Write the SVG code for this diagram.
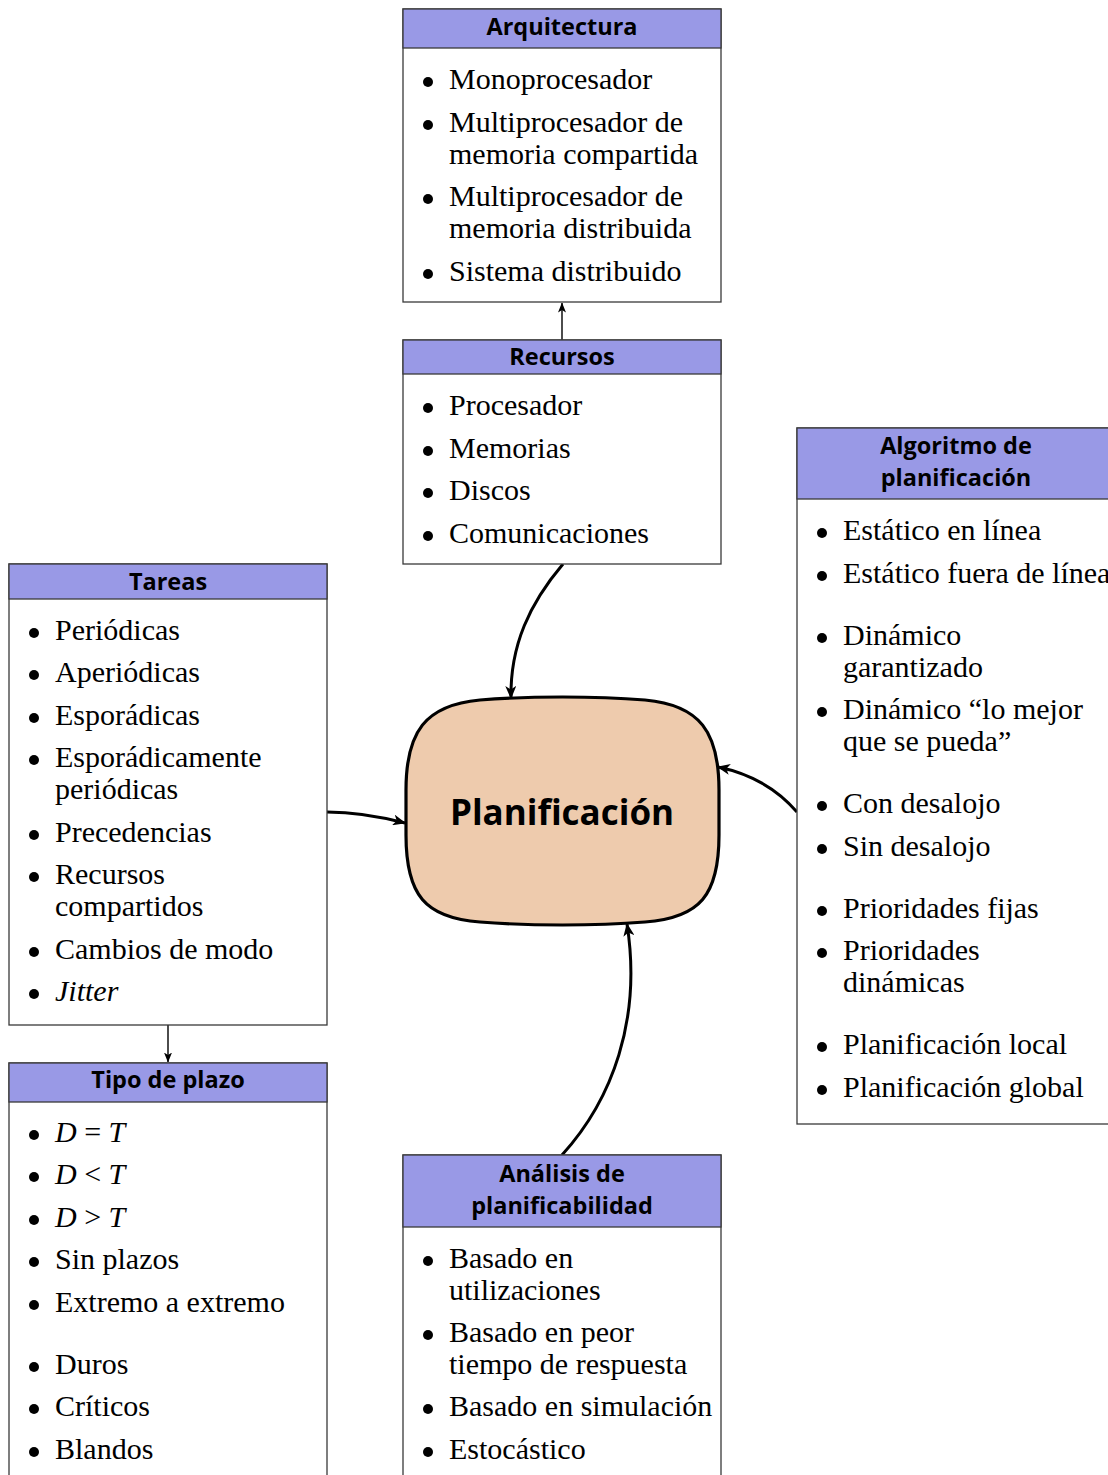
<svg xmlns="http://www.w3.org/2000/svg" width="1108" height="1475" viewBox="0 0 1108 1475">
<style>
.box{fill:#fff;stroke:#3a3a3a;stroke-width:1.3}
.hdr{fill:#9999e6;stroke:#3a3a3a;stroke-width:1.3}
.ht{font-family:"Open Sans","Lato",sans-serif;font-weight:700;font-size:23.5px;fill:#000;text-anchor:middle}
.it{font-family:"Liberation Serif","Times New Roman",serif;font-size:30px;fill:#000}
.b{fill:#000}
.thin{fill:none;stroke:#000;stroke-width:1.4}
.thick{fill:none;stroke:#000;stroke-width:3}
.center{fill:#eecbad;stroke:#000;stroke-width:3.2}
.ct{font-family:"Open Sans","Lato",sans-serif;font-weight:700;font-size:35px;fill:#000;text-anchor:middle}
</style>
<defs>
<marker id="ah" viewBox="0 0 13 11" refX="12" refY="5.5" markerWidth="13" markerHeight="11" markerUnits="userSpaceOnUse" orient="auto">
<path d="M0,0 L13,5.5 L0,11 L3.5,5.5 Z" fill="#000"/>
</marker>
<marker id="as" viewBox="0 0 10 8" refX="9.5" refY="4" markerWidth="10" markerHeight="8" markerUnits="userSpaceOnUse" orient="auto">
<path d="M0,0 L10,4 L0,8 L2.5,4 Z" fill="#000"/>
</marker>
</defs>

<g id="connectors">
<path class="thin" d="M562,340 L562,303" marker-end="url(#as)"/>
<path class="thin" d="M168,1025 L168,1062" marker-end="url(#as)"/>
<path class="thick" d="M563,564 C530,603 510,645 511,698" marker-end="url(#ah)"/>
<path class="thick" d="M327,812 C352,812 378,816 405,823" marker-end="url(#ah)"/>
<path class="thick" d="M797,812 C778,790 752,774 718,767" marker-end="url(#ah)"/>
<path class="thick" d="M562,1155 C612,1100 642,1020 627,924" marker-end="url(#ah)"/>
</g>

<g id="arquitectura">
<rect class="box" x="403" y="9" width="318" height="293"/>
<rect class="hdr" x="403" y="9" width="318" height="39"/>
<text class="ht" x="562" y="35">Arquitectura</text>
<circle class="b" cx="428" cy="82" r="5"/><text class="it" x="449" y="89">Monoprocesador</text>
<circle class="b" cx="428" cy="125" r="5"/><text class="it" x="449" y="132">Multiprocesador de</text>
<text class="it" x="449" y="164">memoria compartida</text>
<circle class="b" cx="428" cy="199" r="5"/><text class="it" x="449" y="206">Multiprocesador de</text>
<text class="it" x="449" y="238">memoria distribuida</text>
<circle class="b" cx="428" cy="274" r="5"/><text class="it" x="449" y="281">Sistema distribuido</text>
</g>

<g id="recursos">
<rect class="box" x="403" y="340" width="318" height="224"/>
<rect class="hdr" x="403" y="340" width="318" height="34"/>
<text class="ht" x="562" y="365">Recursos</text>
<circle class="b" cx="428" cy="408" r="5"/><text class="it" x="449" y="415">Procesador</text>
<circle class="b" cx="428" cy="451" r="5"/><text class="it" x="449" y="458">Memorias</text>
<circle class="b" cx="428" cy="493" r="5"/><text class="it" x="449" y="500">Discos</text>
<circle class="b" cx="428" cy="536" r="5"/><text class="it" x="449" y="543">Comunicaciones</text>
</g>

<g id="algoritmo">
<rect class="box" x="797" y="428" width="320" height="696"/>
<rect class="hdr" x="797" y="428" width="320" height="71"/>
<text class="ht" x="956" y="454">Algoritmo de</text>
<text class="ht" x="956" y="486">planificación</text>
<circle class="b" cx="822" cy="533" r="5"/><text class="it" x="843" y="540">Estático en línea</text>
<circle class="b" cx="822" cy="576" r="5"/><text class="it" x="843" y="583">Estático fuera de línea</text>
<circle class="b" cx="822" cy="638" r="5"/><text class="it" x="843" y="645">Dinámico</text>
<text class="it" x="843" y="677">garantizado</text>
<circle class="b" cx="822" cy="712" r="5"/><text class="it" x="843" y="719">Dinámico “lo mejor</text>
<text class="it" x="843" y="751">que se pueda”</text>
<circle class="b" cx="822" cy="806" r="5"/><text class="it" x="843" y="813">Con desalojo</text>
<circle class="b" cx="822" cy="849" r="5"/><text class="it" x="843" y="856">Sin desalojo</text>
<circle class="b" cx="822" cy="911" r="5"/><text class="it" x="843" y="918">Prioridades fijas</text>
<circle class="b" cx="822" cy="953" r="5"/><text class="it" x="843" y="960">Prioridades</text>
<text class="it" x="843" y="992">dinámicas</text>
<circle class="b" cx="822" cy="1047" r="5"/><text class="it" x="843" y="1054">Planificación local</text>
<circle class="b" cx="822" cy="1090" r="5"/><text class="it" x="843" y="1097">Planificación global</text>
</g>

<g id="tareas">
<rect class="box" x="9" y="564" width="318" height="461"/>
<rect class="hdr" x="9" y="564" width="318" height="35"/>
<text class="ht" x="168" y="590">Tareas</text>
<circle class="b" cx="34" cy="633" r="5"/><text class="it" x="55" y="640">Periódicas</text>
<circle class="b" cx="34" cy="675" r="5"/><text class="it" x="55" y="682">Aperiódicas</text>
<circle class="b" cx="34" cy="718" r="5"/><text class="it" x="55" y="725">Esporádicas</text>
<circle class="b" cx="34" cy="760" r="5"/><text class="it" x="55" y="767">Esporádicamente</text>
<text class="it" x="55" y="799">periódicas</text>
<circle class="b" cx="34" cy="835" r="5"/><text class="it" x="55" y="842">Precedencias</text>
<circle class="b" cx="34" cy="877" r="5"/><text class="it" x="55" y="884">Recursos</text>
<text class="it" x="55" y="916">compartidos</text>
<circle class="b" cx="34" cy="952" r="5"/><text class="it" x="55" y="959">Cambios de modo</text>
<circle class="b" cx="34" cy="994" r="5"/><text class="it" x="55" y="1001" font-style="italic">Jitter</text>
</g>

<g id="tipo-plazo">
<rect class="box" x="9" y="1063" width="318" height="430"/>
<rect class="hdr" x="9" y="1063" width="318" height="39"/>
<text class="ht" x="168" y="1088">Tipo de plazo</text>
<circle class="b" cx="34" cy="1135" r="5"/><text class="it" x="55" y="1142"><tspan font-style="italic">D</tspan> = <tspan font-style="italic">T</tspan></text>
<circle class="b" cx="34" cy="1177" r="5"/><text class="it" x="55" y="1184"><tspan font-style="italic">D</tspan> &lt; <tspan font-style="italic">T</tspan></text>
<circle class="b" cx="34" cy="1220" r="5"/><text class="it" x="55" y="1227"><tspan font-style="italic">D</tspan> &gt; <tspan font-style="italic">T</tspan></text>
<circle class="b" cx="34" cy="1262" r="5"/><text class="it" x="55" y="1269">Sin plazos</text>
<circle class="b" cx="34" cy="1305" r="5"/><text class="it" x="55" y="1312">Extremo a extremo</text>
<circle class="b" cx="34" cy="1367" r="5"/><text class="it" x="55" y="1374">Duros</text>
<circle class="b" cx="34" cy="1409" r="5"/><text class="it" x="55" y="1416">Críticos</text>
<circle class="b" cx="34" cy="1452" r="5"/><text class="it" x="55" y="1459">Blandos</text>
</g>

<g id="analisis">
<rect class="box" x="403" y="1155" width="318" height="340"/>
<rect class="hdr" x="403" y="1155" width="318" height="72"/>
<text class="ht" x="562" y="1182">Análisis de</text>
<text class="ht" x="562" y="1214">planificabilidad</text>
<circle class="b" cx="428" cy="1261" r="5"/><text class="it" x="449" y="1268">Basado en</text>
<text class="it" x="449" y="1300">utilizaciones</text>
<circle class="b" cx="428" cy="1335" r="5"/><text class="it" x="449" y="1342">Basado en peor</text>
<text class="it" x="449" y="1374">tiempo de respuesta</text>
<circle class="b" cx="428" cy="1409" r="5"/><text class="it" x="449" y="1416">Basado en simulación</text>
<circle class="b" cx="428" cy="1452" r="5"/><text class="it" x="449" y="1459">Estocástico</text>
</g>

<g id="planificacion">
<path class="center" d="M480,700 C530,696 595,696 645,700 C700,705 719,732 719,790 L719,835 C719,895 700,918 645,922 C595,926 530,926 480,922 C425,918 406,895 406,835 L406,790 C406,732 425,705 480,700 Z"/>
<text class="ct" x="562" y="825">Planificación</text>
</g>
</svg>
